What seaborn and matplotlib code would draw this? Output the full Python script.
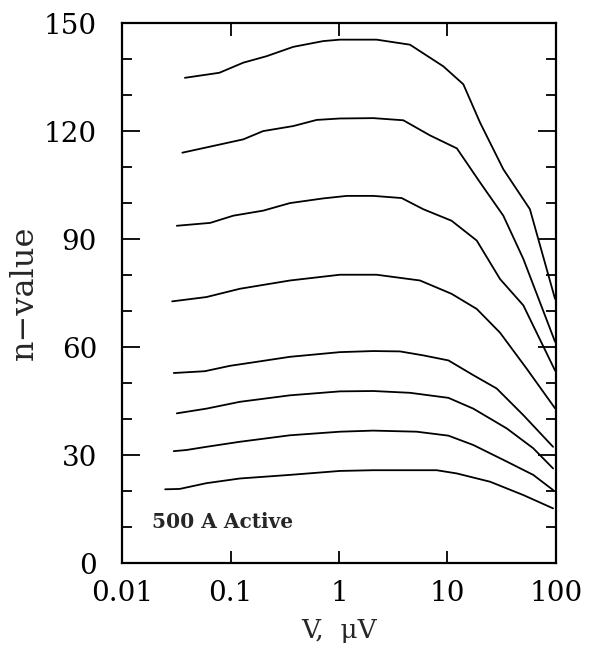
import matplotlib
matplotlib.use("Agg")
import matplotlib.pyplot as plt
import numpy as np
import pandas as pd
import seaborn as sns
from matplotlib.ticker import FixedLocator, FixedFormatter, NullLocator

# n-value vs voltage, one curve per field / temperature level (top to bottom)
V1 = [0.038, 0.079, 0.131, 0.215, 0.379, 0.716, 1.02, 2.22, 4.51, 9.14, 14.0, 20.0, 32.7, 57.5, 98.0]
N1 = [134.8, 136.2, 139.0, 140.8, 143.4, 145.0, 145.4, 145.4, 144.0, 138.0, 133.0, 122.3, 109.4, 98.3, 73.4]

V2 = [0.036, 0.075, 0.131, 0.200, 0.379, 0.622, 1.02, 2.07, 3.92, 6.9, 12.2, 20.0, 32.7, 50.0, 98.0]
N2 = [114.0, 116.1, 117.7, 120.0, 121.4, 123.1, 123.5, 123.6, 123.0, 118.8, 115.2, 105.7, 96.5, 84.5, 61.5]

V3 = [0.032, 0.065, 0.106, 0.200, 0.353, 0.716, 1.18, 2.07, 3.78, 5.98, 10.9, 18.6, 30.5, 50.0, 98.0]
N3 = [93.7, 94.5, 96.5, 97.9, 100.0, 101.3, 102.0, 102.0, 101.4, 98.3, 95.1, 89.6, 78.9, 71.6, 53.5]

V4 = [0.029, 0.060, 0.122, 0.353, 1.02, 2.22, 5.58, 10.9, 18.6, 30.5, 53.7, 98.0]
N4 = [72.7, 73.9, 76.2, 78.5, 80.1, 80.1, 78.5, 74.8, 70.6, 64.0, 54.0, 43.0]

V5 = [0.030, 0.058, 0.099, 0.174, 0.353, 1.02, 2.07, 3.65, 5.98, 10.2, 17.3, 28.4, 50.0, 94.0]
N5 = [52.8, 53.3, 54.8, 55.9, 57.3, 58.6, 58.9, 58.8, 57.7, 56.3, 52.2, 48.5, 41.1, 32.3]

V6 = [0.032, 0.060, 0.122, 0.353, 1.02, 2.07, 4.51, 10.2, 17.3, 35.2, 61.7, 94.0]
N6 = [41.6, 42.9, 44.8, 46.6, 47.7, 47.8, 47.3, 45.9, 42.9, 37.4, 31.9, 26.3]

V7 = [0.030, 0.039, 0.060, 0.122, 0.353, 1.02, 2.07, 5.2, 10.2, 17.3, 35.2, 61.7, 94.0]
N7 = [31.1, 31.4, 32.3, 33.7, 35.5, 36.5, 36.8, 36.5, 35.4, 32.8, 28.2, 24.5, 20.3]

V8 = [0.025, 0.034, 0.060, 0.122, 0.353, 1.02, 2.07, 7.94, 12.2, 24.7, 50.0, 94.0]
N8 = [20.5, 20.6, 22.2, 23.5, 24.5, 25.6, 25.8, 25.8, 24.9, 22.6, 18.9, 15.2]

CURVES = [(V1, N1), (V2, N2), (V3, N3), (V4, N4), (V5, N5), (V6, N6), (V7, N7), (V8, N8)]

X_TICKS = [0.01, 0.1, 1, 10, 100]
X_TICK_LABELS = ["0.01", "0.1", "1", "10", "100"]
Y_TICKS = [0, 30, 60, 90, 120, 150]
Y_MINOR = [10, 20, 40, 50, 70, 80, 100, 110, 130, 140]

ANNOTATION = "500 A Active"


def main() -> None:
    sns.set_style("ticks")
    plt.rcParams["font.family"] = ["DejaVu Serif"]

    frames = []
    for i, (v, n) in enumerate(CURVES):
        frames.append(pd.DataFrame({"V": v, "n": n, "curve": f"c{i}"}))
    df = pd.concat(frames, ignore_index=True)

    fig = plt.figure(figsize=(5.94, 6.54), dpi=100)
    ax = fig.add_axes([0.2054, 0.139, 0.7306, 0.8257])

    sns.lineplot(
        data=df, x="V", y="n", hue="curve", units="curve", estimator=None,
        palette=["black"] * len(CURVES), legend=False, sort=False,
        linewidth=1.3, ax=ax,
    )

    ax.set_xscale("log")
    ax.set_xlim(0.01, 100)
    ax.set_ylim(0, 150)

    ax.xaxis.set_major_locator(FixedLocator(X_TICKS))
    ax.xaxis.set_major_formatter(FixedFormatter(X_TICK_LABELS))
    ax.xaxis.set_minor_locator(NullLocator())
    ax.yaxis.set_major_locator(FixedLocator(Y_TICKS))
    ax.yaxis.set_minor_locator(FixedLocator(Y_MINOR))

    ax.tick_params(axis="both", which="major", direction="in", top=True, right=True,
                   labelsize=20, width=1.3, color="black", labelcolor="black")
    ax.tick_params(axis="x", which="major", length=9, pad=12)
    ax.tick_params(axis="y", which="major", length=13, pad=18)
    ax.tick_params(axis="y", which="minor", direction="in", right=True,
                   length=7, width=1.3, color="black")

    for spine in ax.spines.values():
        spine.set_visible(True)
        spine.set_linewidth(1.6)
        spine.set_color("black")

    ax.set_xlabel("V,  \u03bcV", fontsize=19, labelpad=8)
    ax.set_ylabel("n\u2212value", fontsize=23, labelpad=3)

    ax.text(0.069, 0.076, ANNOTATION, transform=ax.transAxes, fontsize=14.5,
            fontweight="bold", ha="left", va="center")

    fig.savefig("out.png", dpi=100, facecolor="white")


if __name__ == "__main__":
    main()
